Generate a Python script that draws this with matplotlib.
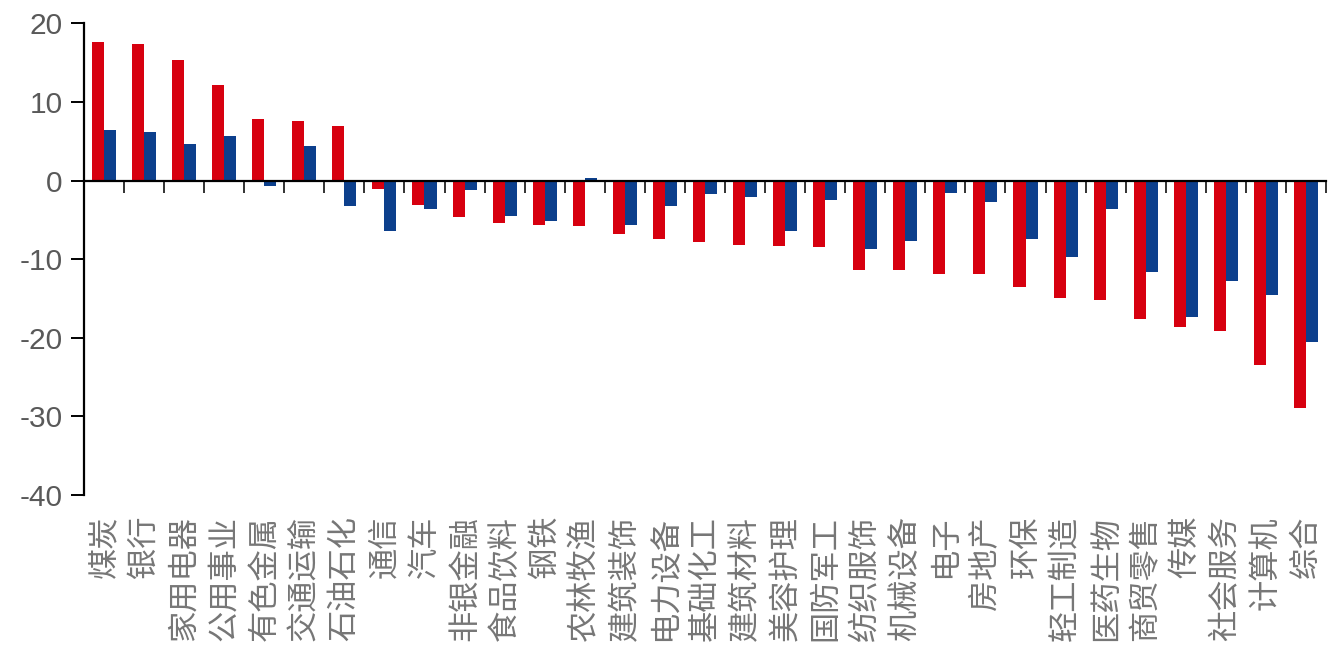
import matplotlib.pyplot as plt
import numpy as np
from matplotlib import transforms

plt.rcParams['axes.unicode_minus'] = False

# 行业名称与两组涨跌幅(%)
industries = ['煤炭', '银行', '家用电器', '公用事业', '有色金属', '交通运输', '石油石化',
              '通信', '汽车', '非银金融', '食品饮料', '钢铁', '农林牧渔', '建筑装饰',
              '电力设备', '基础化工', '建筑材料', '美容护理', '国防军工', '纺织服饰',
              '机械设备', '电子', '房地产', '环保', '轻工制造', '医药生物', '商贸零售',
              '传媒', '社会服务', '计算机', '综合']
red_vals = [17.6, 17.4, 15.3, 12.2, 7.8, 7.6, 6.9,
            -1.1, -3.1, -4.6, -5.4, -5.6, -5.8, -6.8,
            -7.5, -7.8, -8.2, -8.3, -8.5, -11.4,
            -11.4, -11.9, -11.9, -13.6, -15.0, -15.2, -17.6,
            -18.6, -19.1, -23.5, -28.9]
blue_vals = [6.4, 6.2, 4.7, 5.7, -0.7, 4.4, -3.2,
             -6.4, -3.6, -1.2, -4.5, -5.1, 0.3, -5.6,
             -3.3, -1.7, -2.1, -6.4, -2.5, -8.7,
             -7.7, -1.6, -2.7, -7.5, -9.7, -3.6, -11.7,
             -17.4, -12.8, -14.5, -20.6]
yticks = [20, 10, 0, -10, -20, -30, -40]

red = '#D7000F'
blue = '#0C3F8C'
gray = '#595959'

fig = plt.figure(figsize=(13.32, 6.5), dpi=100)
ax = fig.add_axes([0.063, 0.2385, 0.9325, 0.7257])

x = np.arange(len(industries))
w = 0.3
ax.bar(x - w / 2, red_vals, width=w, color=red, zorder=2)
ax.bar(x + w / 2, blue_vals, width=w, color=blue, zorder=2)

ax.set_xlim(-0.5, len(industries) - 0.5)
ax.set_ylim(-40, 20)

for s in ['top', 'right']:
    ax.spines[s].set_visible(False)
ax.spines['bottom'].set_position(('data', 0))
ax.spines['bottom'].set_linewidth(1.6)
ax.spines['left'].set_linewidth(1.6)
ax.spines['bottom'].set_zorder(3)

ax.set_xticks(np.arange(0.5, len(industries), 1.0))
ax.set_xticklabels([])
ax.tick_params(axis='x', direction='out', length=8.5, width=1.3, color='#222222')

ax.set_yticks(yticks)
ax.set_yticklabels([str(v) for v in yticks], fontsize=21.5,
                   color=gray, family='Liberation Sans')
ax.tick_params(axis='y', direction='out', length=9.5, width=1.4, pad=6)

# 行业名称竖排放在图下方
trans = transforms.blended_transform_factory(ax.transData, ax.transAxes)
for i, name in enumerate(industries):
    ax.annotate(name, xy=(i, 0), xycoords=trans, xytext=(0, -15),
                textcoords='offset points', rotation=90, ha='center', va='top',
                fontsize=22.5, color='#767676', fontweight='light',
                family=['Noto Sans CJK SC', 'DejaVu Sans'])

fig.savefig('out.png', dpi=100)
